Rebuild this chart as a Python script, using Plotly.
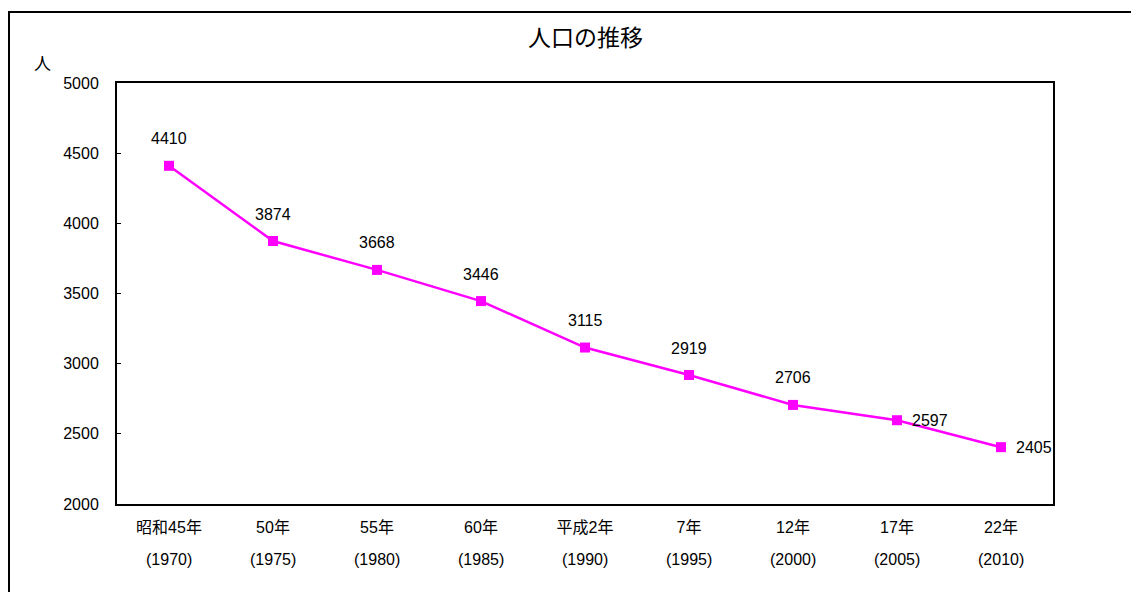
import plotly.graph_objects as go

# 年次（和暦と西暦）と人口
era_labels = ["昭和45年", "50年", "55年", "60年", "平成2年", "7年", "12年", "17年", "22年"]
year_labels = ["(1970)", "(1975)", "(1980)", "(1985)", "(1990)", "(1995)", "(2000)", "(2005)", "(2010)"]
population = [4410, 3874, 3668, 3446, 3115, 2919, 2706, 2597, 2405]
# 値ラベルの配置（最後の2点は右側）
label_side = ["top"] * 7 + ["right"] * 2

y_ticks = [2000, 2500, 3000, 3500, 4000, 4500, 5000]

FONT = "Liberation Sans, Arial, Noto Sans CJK JP, sans-serif"
x_idx = list(range(len(population)))

fig = go.Figure()
fig.add_trace(go.Scatter(
    x=x_idx,
    y=population,
    mode="lines+markers",
    line=dict(color="#FF00FF", width=2.5),
    marker=dict(symbol="square", size=10, color="#FF00FF"),
    cliponaxis=False,
    showlegend=False,
    hoverinfo="skip",
))

annotations = []
# データラベル
for xi, v, side in zip(x_idx, population, label_side):
    if side == "top":
        annotations.append(dict(
            x=xi, y=v, xref="x", yref="y", text=str(v), showarrow=False,
            xanchor="center", yanchor="middle", yshift=27,
            font=dict(family=FONT, size=16, color="#000000"),
        ))
    else:
        annotations.append(dict(
            x=xi, y=v, xref="x", yref="y", text=str(v), showarrow=False,
            xanchor="left", yanchor="middle", xshift=13,
            font=dict(family=FONT, size=16, color="#000000"),
        ))
# 西暦（2行目の軸ラベル）
for xi, yl in zip(x_idx, year_labels):
    annotations.append(dict(
        x=xi, y=-0.131, xref="x", yref="paper", text=yl, showarrow=False,
        xanchor="center", yanchor="middle",
        font=dict(family=FONT, size=16, color="#000000"),
    ))
# 縦軸の単位
annotations.append(dict(
    text="人", xref="paper", yref="paper",
    x=(42 - 117) / 936, y=(504 - 64) / 421, xanchor="center", yanchor="middle",
    showarrow=False, font=dict(family=FONT, size=17, color="#000000"),
))

fig.update_layout(
    width=1131,
    height=592,
    margin=dict(l=117, r=78, t=83, b=88),
    paper_bgcolor="white",
    plot_bgcolor="white",
    font=dict(family=FONT, size=16, color="#000000"),
    title=dict(
        text="人口の推移",
        x=0.5177, xanchor="center",
        y=0.936, yanchor="middle",
        font=dict(family=FONT, size=23, color="#000000"),
    ),
    xaxis=dict(
        range=[-0.5, len(population) - 0.5],
        tickmode="array",
        tickvals=x_idx,
        ticktext=era_labels,
        showgrid=False,
        zeroline=False,
        showline=True,
        linecolor="#000000",
        linewidth=2,
        mirror=True,
        ticks="",
        tickfont=dict(family=FONT, size=16),
        ticklabelstandoff=8,
    ),
    yaxis=dict(
        range=[2000, 5000],
        tickmode="array",
        tickvals=y_ticks,
        ticktext=[str(v) for v in y_ticks],
        showgrid=False,
        zeroline=False,
        showline=True,
        linecolor="#000000",
        linewidth=2,
        mirror=True,
        ticks="inside",
        ticklen=4,
        tickwidth=1,
        tickcolor="#000000",
        tickfont=dict(family=FONT, size=16),
        ticklabelstandoff=13,
    ),
    shapes=[
        # 外枠
        dict(type="rect", xref="paper", yref="paper",
             x0=(9 - 117) / 936, x1=1.2, y0=-0.5, y1=(504 - 12) / 421,
             line=dict(color="#000000", width=2), fillcolor="rgba(0,0,0,0)",
             layer="below"),
    ],
    annotations=annotations,
)

fig.write_html("out.html")
